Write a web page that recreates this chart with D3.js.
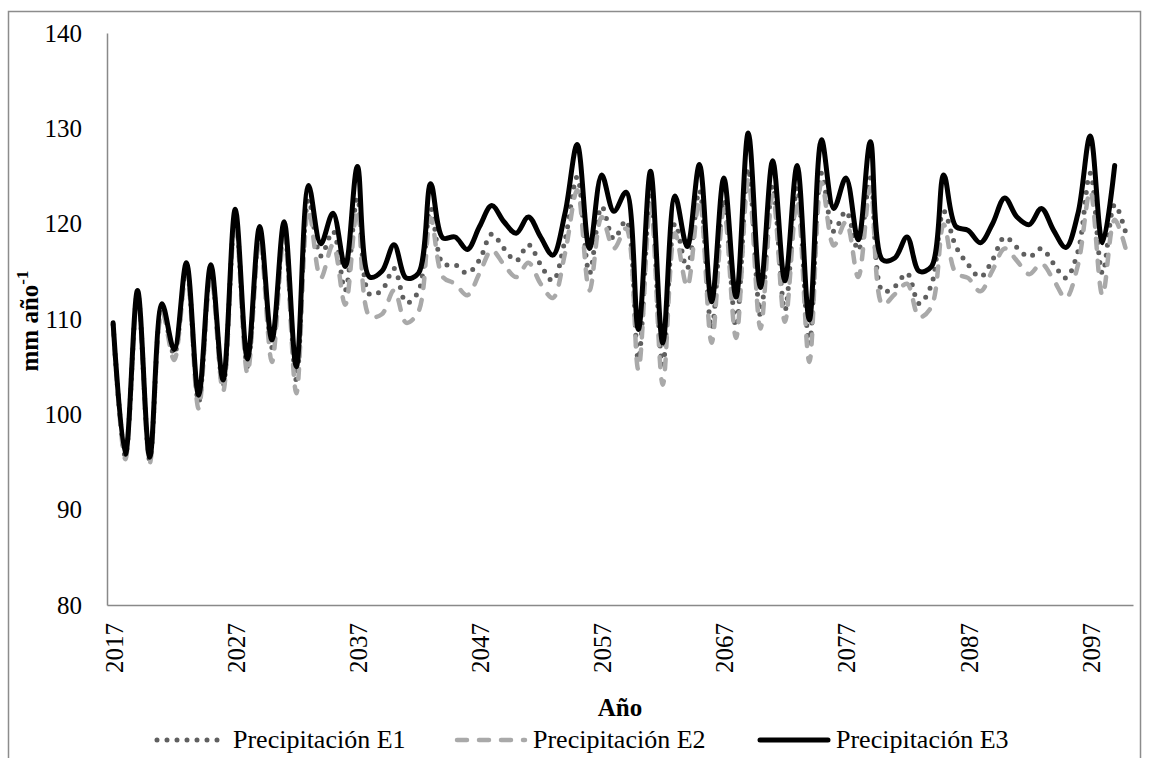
<!DOCTYPE html>
<html>
<head>
<meta charset="utf-8">
<script src="https://cdn.jsdelivr.net/npm/d3@7"></script>
<style>
  body { margin: 0; background: #fff; }
  text { font-family: "Liberation Serif", "Times New Roman", serif; fill: #000; }
</style>
</head>
<body>
<svg id="chart" width="1149" height="758"></svg>
<script>
// years 2017..2100
let years = d3.range(2017, 2101);

let precipE1 = [109.4, 95.6, 112.6, 95.2, 111.2, 106.3, 115.4, 101.3, 115.2, 103.0,
  120.8, 105.0, 119.0, 107.0, 119.4, 103.6, 122.5, 116.6, 119.2, 113.0,
  122.7, 112.6, 113.0, 115.3, 111.7, 112.9, 121.6, 115.8, 115.7, 114.8,
  116.2, 118.9, 117.4, 116.1, 117.8, 115.7, 114.0, 118.3, 124.9, 114.8,
  121.8, 118.4, 120.3, 105.8, 123.0, 105.2, 120.0, 115.3, 123.5, 109.0,
  122.5, 109.2, 125.8, 110.4, 124.0, 110.9, 123.8, 107.4, 125.3, 119.2,
  121.3, 117.2, 124.8, 112.9, 113.4, 114.8, 111.6, 113.6, 121.3, 117.6,
  115.7, 114.4, 116.2, 118.6, 117.5, 116.5, 117.4, 115.8, 114.3, 117.1,
  125.3, 114.8, 122.0, 118.6];

let precipE2 = [109.2, 95.3, 112.2, 94.9, 110.8, 105.7, 114.9, 100.6, 114.6, 102.4,
  120.2, 104.3, 118.4, 105.5, 118.7, 102.2, 121.5, 114.3, 117.8, 111.5,
  121.5, 110.3, 110.5, 113.0, 109.6, 110.8, 120.6, 114.4, 113.7, 112.5,
  114.8, 117.2, 115.7, 114.4, 115.9, 113.7, 112.2, 116.9, 123.5, 113.0,
  120.7, 117.4, 119.5, 104.7, 122.0, 103.1, 119.0, 113.4, 122.5, 107.5,
  121.5, 108.0, 124.6, 109.0, 123.0, 109.7, 122.5, 105.5, 124.3, 117.7,
  120.2, 114.4, 123.8, 111.5, 112.6, 113.7, 110.2, 111.3, 119.9, 114.8,
  114.3, 112.9, 115.1, 117.4, 116.1, 114.7, 115.8, 114.1, 112.2, 115.7,
  123.4, 112.5, 120.4, 116.9];

let precipE3 = [109.6, 95.8, 113.0, 95.5, 111.6, 106.8, 115.9, 102.0, 115.7, 103.6,
  121.5, 105.8, 119.7, 107.8, 120.2, 105.0, 124.0, 117.9, 121.1, 115.5,
  126.0, 114.4, 115.0, 117.8, 114.3, 114.8, 124.2, 118.5, 118.6, 117.3,
  119.7, 121.9, 120.2, 119.0, 120.7, 118.6, 116.7, 121.1, 128.3, 117.4,
  125.1, 121.3, 123.3, 108.9, 125.5, 107.5, 122.9, 117.6, 126.2, 111.8,
  124.8, 112.3, 129.5, 113.3, 126.6, 114.0, 126.1, 109.9, 128.8, 121.6,
  124.8, 118.3, 128.6, 116.2, 116.4, 118.6, 115.0, 115.5, 125.1, 119.7,
  119.3, 118.0, 120.0, 122.7, 120.7, 119.9, 121.6, 119.3, 117.5, 121.1,
  129.2, 118.0, 126.1, null];

let xTicks = d3.range(2017, 2101, 10);
let yTicks = [80, 90, 100, 110, 120, 130, 140];

let seriesNames = ["Precipitación E1", "Precipitación E2", "Precipitación E3"];

let minx = 107;
let maxx = 1133;
let miny = 33;
let maxy = 605;

let xScale = d3.scaleLinear()
  .domain([2016.5, 2100.5])
  .range([minx, maxx]);
let yScale = d3.scaleLinear()
  .domain([80, 140])
  .range([maxy, miny]);

let svg = d3.select("#chart");

// outer chart frame
svg.append("rect")
  .attr("x", 8.5).attr("y", 11.5)
  .attr("width", 1132).attr("height", 760)
  .attr("fill", "none")
  .attr("stroke", "#8c8c8c")
  .attr("stroke-width", 1.5);

// y axis
let y_axis = d3.axisLeft(yScale).tickValues(yTicks).tickSize(0).tickPadding(25);
let gy = svg.append("g")
  .attr("transform", `translate(${minx}, 0)`)
  .call(y_axis);
gy.select(".domain").attr("stroke", "#898989").attr("stroke-width", 1.5);
gy.selectAll("text")
  .style("font-size", "25px")
  .style("font-family", "Liberation Serif, Times New Roman, serif");

// x axis
let x_axis = d3.axisBottom(xScale).tickValues(xTicks).tickSize(0).tickFormat(d3.format("d"));
let gx = svg.append("g")
  .attr("transform", `translate(0, ${maxy})`)
  .call(x_axis);
gx.select(".domain").attr("stroke", "#898989").attr("stroke-width", 1.5);
gx.selectAll("text")
  .style("font-size", "25px")
  .style("font-family", "Liberation Serif, Times New Roman, serif")
  .attr("text-anchor", "end")
  .attr("dy", null)
  .attr("y", 0)
  .attr("transform", "translate(9, 18) rotate(-90)");

// axis titles
let yt = svg.append("text")
  .attr("transform", `translate(38, ${(miny + maxy) / 2 + 2}) rotate(-90)`)
  .attr("text-anchor", "middle")
  .style("font-size", "25px")
  .style("font-weight", "bold");
yt.append("tspan").text("mm año");
yt.append("tspan").attr("dy", -10).style("font-size", "17px").text("-1");

svg.append("text")
  .attr("x", (minx + maxx) / 2)
  .attr("y", 716)
  .attr("text-anchor", "middle")
  .style("font-size", "25px")
  .style("font-weight", "bold")
  .text("Año");

// series lines
let styles = [
  { data: precipE1, color: "#5f5f5f", width: 5, dash: "0,10", cap: "round" },
  { data: precipE2, color: "#a9a9a9", width: 4.5, dash: "10,12", cap: "round" },
  { data: precipE3, color: "#000000", width: 5, dash: null, cap: "round" }
];

let line = d3.line()
  .defined(d => d.v != null)
  .x(d => xScale(d.year))
  .y(d => yScale(d.v))
  .curve(d3.curveCatmullRom);

styles.forEach(s => {
  let pts = years.map((y, i) => ({ year: y, v: s.data[i] }));
  svg.append("path")
    .attr("fill", "none")
    .attr("stroke", s.color)
    .attr("stroke-width", s.width)
    .attr("stroke-linecap", s.cap)
    .attr("stroke-linejoin", "round")
    .attr("stroke-dasharray", s.dash)
    .attr("d", line(pts));
});

// legend
let legendX = [157, 457, 760];
let legend = svg.append("g");
styles.forEach((s, i) => {
  legend.append("line")
    .attr("x1", legendX[i]).attr("x2", legendX[i] + 68)
    .attr("y1", 740).attr("y2", 740)
    .attr("stroke", s.color)
    .attr("stroke-width", s.width)
    .attr("stroke-linecap", s.cap)
    .attr("stroke-dasharray", s.dash);
  legend.append("text")
    .attr("x", legendX[i] + 76)
    .attr("y", 748)
    .style("font-size", "26px")
    .text(seriesNames[i]);
});
</script>
</body>
</html>
